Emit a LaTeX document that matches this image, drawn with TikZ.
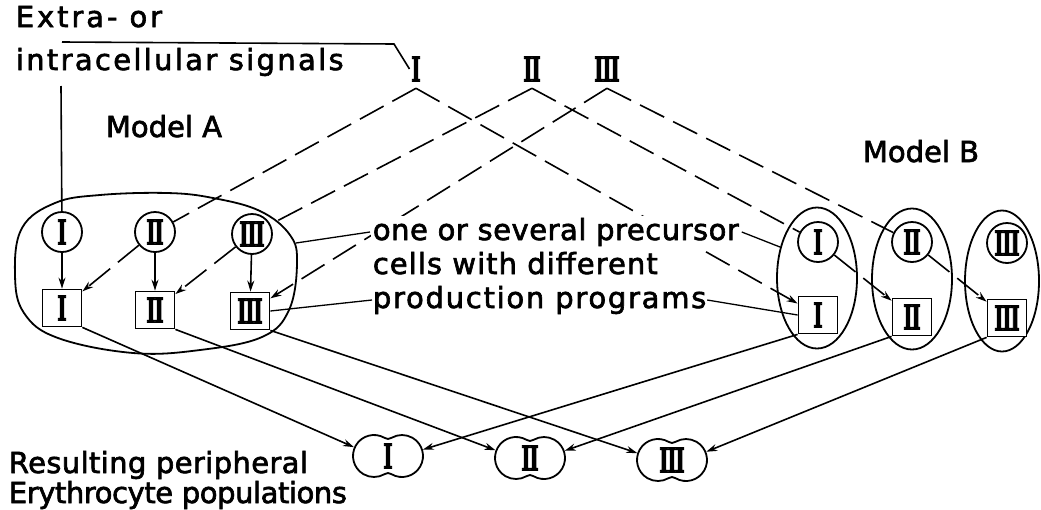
\documentclass[tikz,border=0pt]{standalone}
\usepackage{fontspec}
\newfontface\lblfont{DejaVu Sans}[FakeBold=2.2]
\newfontface\numfont{DejaVu Serif Bold}[FakeBold=3.5]
\usetikzlibrary{arrows.meta,shapes.geometric,backgrounds}

% condensed heavy slab-serif Roman numerals
\newcommand{\rnum}[1]{\scalebox{0.58}[1]{\fontsize{34}{34}\selectfont\numfont #1}}
\newcommand{\rI}{\rnum{I}}
\newcommand{\rII}{\rnum{I\kern-2pt I}}
\newcommand{\rIII}{\rnum{I\kern-2pt I\kern-2pt I}}
% letter-spaced label text
\newcommand{\spaced}[2]{{\addfontfeature{LetterSpace=#1}#2}}

\begin{document}
\begin{tikzpicture}[x=1pt,y=-1pt,line width=1.8pt,
  lbl/.style={font=\lblfont\fontsize{29}{35}\selectfont, inner sep=0pt, anchor=base west},
  cell/.style={circle, draw, fill=white, minimum size=40pt, inner sep=0pt},
  prog/.style={draw, fill=white, minimum width=39pt, minimum height=37pt, inner sep=0pt},
  clone/.style={ellipse, draw, minimum width=80pt, minimum height=141pt, inner sep=0pt},
  lobe/.style={circle, minimum size=42pt, inner sep=0pt},
  sigmark/.style={inner sep=1pt},
  signal/.style={dash pattern=on 27pt off 10pt},
  tip/.style={-{Stealth[length=11pt,width=7pt]}},
  leader/.style={line width=1.3pt}]
\useasboundingbox (0,0) rectangle (1041,509);

% ---- labels ----
\node[lbl] (ext)   at (15,27)  {\spaced{10}{Extra- or}};
\node[lbl] (intra) at (15,70)  {\spaced{8}{intracellular signals}};
\node[lbl] (modA)  at (105,137) {Model A};
\node[lbl] (modB)  at (862,162) {Model B};
\node[lbl, fill=white, inner sep=2pt] (l1) at (370,240) {\spaced{1.8}{one or several precursor}};
\node[lbl] (l2) at (372,274) {\spaced{3.6}{cells with different}};
\node[lbl] (l3) at (372,308) {\spaced{6}{production programs}};
\node[lbl] (res1) at (8,473) {\spaced{1.3}{Resulting peripheral}};
\node[lbl] (res2) at (8,503) {\spaced{-1.5}{Erythrocyte populations}};

% ---- signal marks ----
\node[sigmark] (sI)   at (416,69) {\rI};
\node[sigmark] (sII)  at (532,69) {\rII};
\node[sigmark] (sIII) at (607,69) {\rIII};
\coordinate (sigStart) at (62,42);
\coordinate (sigTurn)  at (394,44);
\coordinate (sigDown)  at (61,86);

% ---- model A ----
\draw plot[smooth cycle, tension=0.65] coordinates {
  (100,195) (167,193) (213,198) (260,211) (290,235) (297,263) (289,310)
  (262,337) (200,350) (133,353) (58,338) (24,313) (15,275) (22,228) (55,203)};
\coordinate (blobR) at (296,243);
\node[cell] (cA1) at (62,232)  {\rI};
\node[cell] (cA2) at (155,232) {\rII};
\node[cell] (cA3) at (252,234) {\rIII};
\node[prog] (qA1) at (62,308)  {\rI};
\node[prog] (qA2) at (155,310) {\rII};
\node[prog] (qA3) at (250,311) {\rIII};

% ---- model B ----
\node[clone] (eB1) at (817,278) {};
\node[clone] (eB2) at (912,279) {};
\node[clone, minimum width=74pt] (eB3) at (1002,281) {};
\node[cell] (cB1) at (818,242)  {\rI};
\node[cell] (cB2) at (912,242)  {\rII};
\node[cell] (cB3) at (1007,243) {\rIII};
\node[prog] (qB1) at (818,315)  {\rI};
\node[prog] (qB2) at (912,317)  {\rII};
\node[prog] (qB3) at (1007,318) {\rIII};

% ---- erythrocyte populations ----
\foreach \p/\cx/\cy/\lab in {p1/388/456/\rI, p2/530/458/\rII, p3/672/460/\rIII}{
  \coordinate (\p) at (\cx,\cy);
  \node[lobe] (\p L) at (\cx-14,\cy) {};
  \node[lobe] (\p R) at (\cx+14,\cy) {};
  \draw[shift={(\p)}] (3.5,18.19) arc[start angle=120, end angle=-120, radius=21]
    .. controls (1.5,-16.6) and (-1.5,-16.6) .. (-3.5,-18.19)
    arc[start angle=-60, end angle=-300, radius=21]
    .. controls (-1.5,16.6) and (1.5,16.6) .. cycle;
  \node at (\p) {\lab};
}

% ---- connectors ----
\begin{scope}[on background layer={line width=1.6pt}]
  \draw (sigStart) -- (sigTurn) -- (sI.west);
  \draw (sigDown) -- (cA1);
  % signals into model A
  \draw[signal] ([yshift=-5pt]sI.south) -- (cA2);
  \draw[signal,tip] (cA2) -- (qA1);
  \draw[signal] ([yshift=-5pt]sII.south) -- (cA3);
  \draw[signal,tip] (cA3) -- (qA2);
  \draw[signal,tip] ([yshift=-5pt]sIII.south) -- (qA3);
  % signals into model B
  \draw[signal,tip] ([yshift=-5pt]sI.south) -- (qB1);
  \draw[signal] ([yshift=-5pt]sII.south) -- (cB1);
  \draw[signal,tip] (cB1) -- (qB2);
  \draw[signal] ([yshift=-5pt]sIII.south) -- (cB2);
  \draw[signal,tip] (cB2) -- (qB3);
  % precursor cell to production program
  \draw[tip] (cA1) -- (qA1);
  \draw[tip] (cA2) -- (qA2);
  \draw[tip] (cA3) -- (qA3);
  % label leaders
  \draw[leader] (blobR) -- (l1.west);
  \draw[leader] (l1.east) -- (eB1.140);
  \draw[leader] (qA3.east) -- (l3.west);
  \draw[leader] (l3.east) -- (qB1.west);
  % production programs to peripheral populations
  \draw[tip] (qA1.south east) -- (p1L);
  \draw[tip] (qA2.south east) -- (p2L);
  \draw[tip] (qA3.south east) -- (p3L);
  \draw[tip] (qB1.south west) -- (p1R);
  \draw[tip] (qB2.south west) -- (p2R);
  \draw[tip] (qB3.south west) -- (p3R);
\end{scope}
\end{tikzpicture}
\end{document}
